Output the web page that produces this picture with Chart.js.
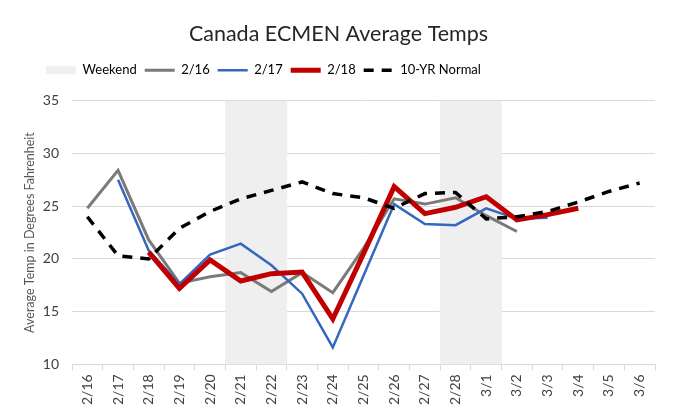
<!DOCTYPE html>
<html>
<head>
<meta charset="utf-8">
<script src="https://cdn.jsdelivr.net/npm/chart.js@4/dist/chart.umd.min.js"></script>
<style>
  html, body { margin: 0; padding: 0; background: #ffffff; }
  #wrap { width: 675px; height: 415px; }
</style>
</head>
<body>
<div id="wrap"><canvas id="c" width="675" height="415"></canvas></div>
<script>
const categories = ['2/16','2/17','2/18','2/19','2/20','2/21','2/22','2/23','2/24','2/25','2/26','2/27','2/28','3/1','3/2','3/3','3/4','3/5','3/6'];
const weekendTop = [null,null,null,null,null,35,35,null,null,null,null,null,35,35,null,null,null,null,null];
const run0216 = [24.8,28.4,21.8,17.7,18.3,18.7,16.9,18.7,16.8,21.0,25.7,25.2,25.8,24.1,22.6,null,null,null,null];
const run0217 = [null,27.5,20.8,17.6,20.4,21.45,19.4,16.7,11.6,18.4,25.2,23.3,23.2,24.8,23.8,23.9,null,null,null];
const run0218 = [null,null,20.65,17.2,19.9,17.9,18.6,18.75,14.3,20.5,26.85,24.3,24.9,25.9,23.7,24.2,24.8,null,null];
const normal10yr = [24.0,20.3,20.0,22.9,24.5,25.7,26.5,27.3,26.2,25.8,24.8,26.2,26.3,23.8,24.0,24.5,25.4,26.4,27.2];
const yTicks = [10,15,20,25,30,35];

const FONT = 'Lato, "Open Sans", "DejaVu Sans", sans-serif';

const legendTweak = {
  id: 'legendTweak',
  beforeLayout(chart) {
    const lg = chart.legend;
    if (lg && !lg._patched) {
      const f = lg.fit.bind(lg);
      lg.fit = function () { f(); this.height += 14; };
      lg._patched = true;
    }
  },
  afterLayout(chart) {
    const lg = chart.legend;
    if (lg) { lg.left -= 75; lg.right -= 75; }
  }
};

new Chart(document.getElementById('c'), {
  type: 'line',
  data: {
    labels: categories,
    datasets: [
      { type: 'bar', label: 'Weekend', data: weekendTop, backgroundColor: '#efefef', borderWidth: 0,
        barPercentage: 1, categoryPercentage: 1, order: 10 },
      { label: '2/16', data: run0216, borderColor: '#7a7a7a', borderWidth: 3, pointRadius: 0, tension: 0, order: 4 },
      { label: '2/17', data: run0217, borderColor: '#3566c0', borderWidth: 2.5, pointRadius: 0, tension: 0, order: 3 },
      { label: '2/18', data: run0218, borderColor: '#c00000', borderWidth: 5, pointRadius: 0, tension: 0, order: 2 },
      { label: '10-YR Normal', data: normal10yr, borderColor: '#000000', borderWidth: 3.5, borderDash: [10, 8], pointRadius: 0, tension: 0, order: 1 }
    ]
  },
  options: {
    responsive: false,
    animation: false,
    devicePixelRatio: 1,
    layout: { padding: { left: 22, right: 20, top: 0, bottom: 6 } },
    plugins: {
      title: {
        display: true, text: 'Canada ECMEN Average Temps',
        color: '#262626', font: { family: FONT, size: 21.5, weight: 'normal' },
        padding: { top: 21, bottom: 9 }
      },
      legend: {
        display: true, position: 'top', align: 'center',
        labels: {
          usePointStyle: true, pointStyleWidth: 30, boxHeight: 8, padding: 8,
          color: '#404040', font: { family: FONT, size: 13 },
          generateLabels(chart) {
            return chart.data.datasets.map((ds, i) => {
              if (ds.type === 'bar') {
                return { text: ds.label, fillStyle: '#efefef', strokeStyle: '#efefef', lineWidth: 0, pointStyle: 'rect', datasetIndex: i };
              }
              return { text: ds.label, fillStyle: ds.borderColor, strokeStyle: ds.borderColor, lineWidth: ds.borderWidth,
                       lineDash: ds.borderDash || [], pointStyle: 'line', datasetIndex: i };
            });
          }
        }
      },
      tooltip: { enabled: false }
    },
    scales: {
      x: {
        offset: true,
        grid: { display: true, offset: true, drawOnChartArea: false, drawTicks: true, tickLength: 6, color: '#d9d9d9' },
        border: { display: true, color: '#d9d9d9' },
        ticks: { color: '#404040', font: { family: FONT, size: 14 }, minRotation: 90, maxRotation: 90, autoSkip: false, padding: 4 }
      },
      y: {
        min: yTicks[0], max: yTicks[yTicks.length - 1],
        afterBuildTicks(scale) { scale.ticks = yTicks.map(v => ({ value: v })); },
        afterFit(scale) { scale.width = 50; },
        grid: { color: '#d9d9d9', drawTicks: false, lineWidth: 1 },
        border: { display: false },
        ticks: { color: '#404040', font: { family: FONT, size: 14 }, padding: 13 },
        title: { display: true, text: 'Average Temp in Degrees Fahrenheit', color: '#595959',
                 font: { family: FONT, size: 12.5 }, padding: { top: 0, bottom: 5 } }
      }
    }
  },
  plugins: [legendTweak]
});
</script>
</body>
</html>
